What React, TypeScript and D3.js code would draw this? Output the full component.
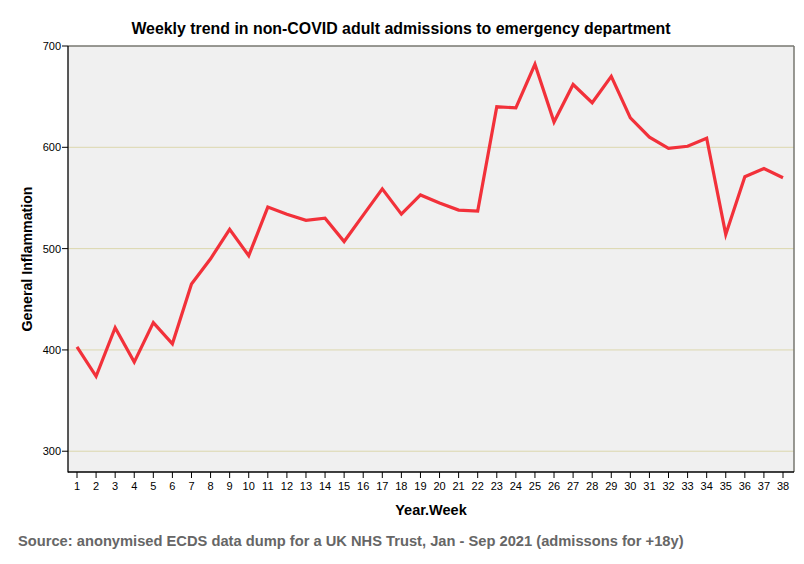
import React from "react";
import * as d3 from "d3";

const weeks: number[] = d3.range(1, 39);
const admissions: number[] = [
  403, 374, 422, 388, 427, 406, 465, 490, 519, 493,
  541, 534, 528, 530, 507, 533, 559, 534, 553, 545,
  538, 537, 640, 639, 682, 625, 662, 644, 670, 629,
  610, 599, 601, 609, 514, 571, 579, 570,
];
const yTicks: number[] = [300, 400, 500, 600, 700];

const W = 804;
const H = 564;
const left = 68;
const right = 794;
const top = 46;
const bottom = 472;

export default function App() {
  const x = d3.scaleLinear().domain([1, 38]).range([77, 783]);
  const y = d3.scaleLinear().domain([279.5, 700]).range([bottom, top]);
  const line = d3
    .line<number>()
    .x((_, i) => x(weeks[i]))
    .y((d) => y(d));
  const font = "'Liberation Sans', Arial, sans-serif";
  return (
    <svg
      width={W}
      height={H}
      style={{ position: "absolute", left: 0, top: 0, background: "#fff" }}
      fontFamily={font}
    >
      <rect x={0} y={0} width={W} height={H} fill="#fff" />
      <text x={401} y={34} textAnchor="middle" fontSize={15.9} fontWeight="bold" fill="#000">
        Weekly trend in non-COVID adult admissions to emergency department
      </text>
      <rect x={left} y={top} width={right - left} height={bottom - top} fill="#f0f0f0" />
      {yTicks.slice(0, 4).map((t) => (
        <line key={t} x1={left} x2={right} y1={y(t)} y2={y(t)} stroke="#dcd7ae" strokeWidth={1} />
      ))}
      <line x1={left} x2={right} y1={top} y2={top} stroke="#777770" strokeWidth={1.5} />
      <line x1={right} x2={right} y1={top} y2={bottom} stroke="#777770" strokeWidth={1.5} />
      <path d={line(admissions) || ""} fill="none" stroke="#f2313a" strokeWidth={3.2} strokeLinejoin="miter" />
      <line x1={left} x2={left} y1={top} y2={bottom + 0.5} stroke="#000" strokeWidth={1.3} />
      <line x1={left} x2={right} y1={bottom} y2={bottom} stroke="#000" strokeWidth={1.3} />
      {yTicks.map((t) => (
        <g key={t}>
          <line x1={left - 6} x2={left} y1={y(t)} y2={y(t)} stroke="#000" strokeWidth={1} />
          <text x={left - 7} y={y(t) + 4} textAnchor="end" fontSize={11} fill="#000">
            {t}
          </text>
        </g>
      ))}
      {weeks.map((w) => (
        <g key={w}>
          <line x1={x(w)} x2={x(w)} y1={bottom} y2={bottom + 6} stroke="#000" strokeWidth={1} />
          <text x={x(w)} y={490} textAnchor="middle" fontSize={11} fill="#000">
            {w}
          </text>
        </g>
      ))}
      <text x={431} y={515} textAnchor="middle" fontSize={14.5} fontWeight="bold" fill="#000">
        Year.Week
      </text>
      <text
        transform={`translate(32, ${259}) rotate(-90)`}
        textAnchor="middle"
        fontSize={14.2}
        fontWeight="bold"
        fill="#000"
      >
        General Inflammation
      </text>
      <text x={18} y={546} fontSize={14.7} fontWeight="bold" fill="#666">
        Source: anonymised ECDS data dump for a UK NHS Trust, Jan - Sep 2021 (admissons for +18y)
      </text>
    </svg>
  );
}
